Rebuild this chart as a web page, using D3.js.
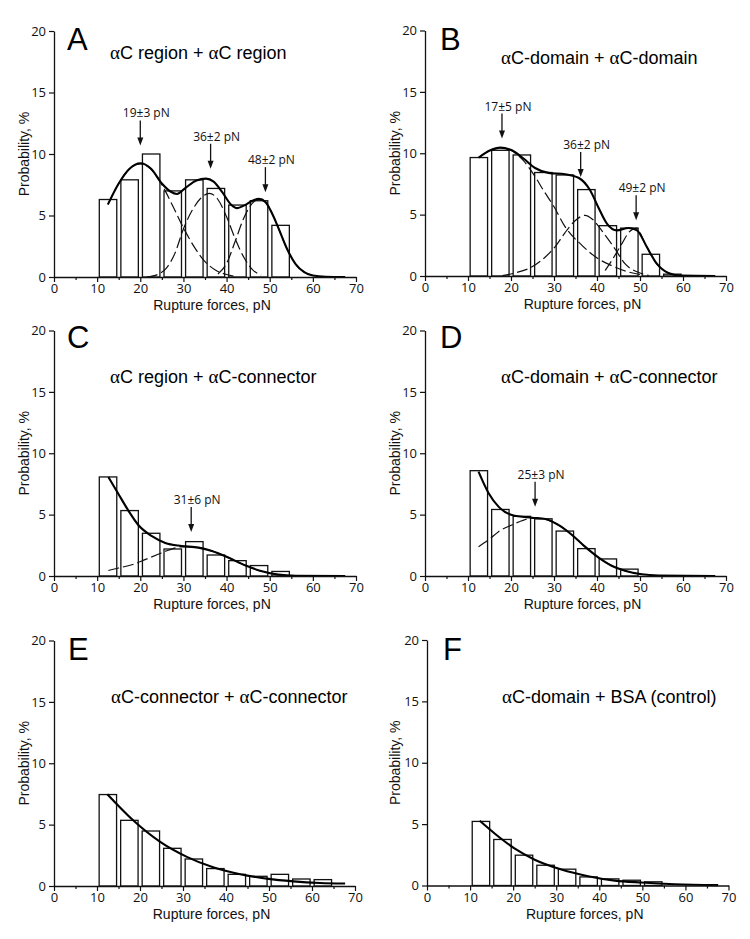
<!DOCTYPE html>
<html><head><meta charset="utf-8">
<script src="https://cdn.jsdelivr.net/npm/d3@7"></script>
<style>body{margin:0;background:#fff}svg{display:block}</style>
</head><body><svg id="c" width="750" height="939"></svg>
<script>
// ---------- data ----------
const binStarts = [10,15,20,25,30,35,40,45,50,55,60];
const xTicks = [0,10,20,30,40,50,60,70];
const xMinor = [5,15,25,35,45,55,65];
const yTicks = [0,5,10,15,20];
const letters = ["A","B","C","D","E","F"];
const titles = ["αC region + αC region","αC-domain + αC-domain","αC region + αC-connector",
                "αC-domain + αC-connector","αC-connector + αC-connector","αC-domain + BSA (control)"];

const probA = [6.3,7.9,10.0,7.0,7.9,7.2,5.85,6.2,4.2];
const probB = [9.65,10.24,9.86,8.43,8.23,7.04,4.1,3.9,1.77,0.15];
const probC = [8.07,5.33,3.48,2.2,2.8,1.71,1.25,0.85,0.37];
const probD = [8.58,5.42,4.86,4.66,3.66,2.23,1.39,0.56];
const probE = [7.45,5.35,4.48,3.07,2.2,1.42,0.95,0.79,0.95,0.57,0.52];
const probF = [5.22,3.75,2.47,1.65,1.33,0.7,0.54,0.43,0.3];

const fitA = [[12.5,5.9],[15,7.6],[17.5,8.8],[20,9.25],[22.5,8.8],[25,7.6],[27,6.95],[28.5,6.75],[30.5,7.25],[33,7.85],[35.2,8.0],[37,7.75],[39,6.9],[41,5.9],[42.5,5.6],[44,5.8],[46,6.2],[47.5,6.35],[49,6.1],[50.5,5.2],[52,4.0],[54,2.3],[56,1.05],[58,0.4],[60,0.12],[63,0.02],[67.5,0]];
const compA1 = [[12.5,5.9],[15,7.6],[17.5,8.8],[20,9.2],[22.5,8.75],[25,7.5],[27.5,5.8],[30,4.0],[32.5,2.45],[35,1.25],[37.5,0.55],[40,0.2],[42,0.05]];
const compA2 = [[21.5,0],[24,0.2],[26,0.7],[28,1.9],[30,3.9],[32,5.4],[34,6.4],[36,6.8],[38,6.3],[40,4.9],[42,3.1],[44,1.6],[46,0.6],[48,0.15]];
const compA3 = [[38,0.25],[40,1.1],[42,2.9],[44,4.8],[46,6.0],[47.5,6.35],[49,6.1],[50.5,5.2],[52,4.0],[54,2.3],[56,1.05],[58,0.4],[60,0.12]];

const fitB = [[12.5,9.65],[15.2,10.24],[17.5,10.46],[20.2,10.24],[22.9,9.57],[25.6,8.8],[28.7,8.4],[32.6,8.29],[35.7,8.0],[38.4,6.98],[40.3,5.6],[42.3,4.27],[44.6,3.72],[47.3,3.91],[49.3,3.72],[51.6,2.36],[53.9,1.0],[56.6,0.25],[59.7,0.03],[67.5,0]];
const compB1 = [[12.5,9.65],[15.2,10.24],[17.5,10.46],[20.2,10.2],[22.9,9.4],[25.6,8.1],[27.5,7.0],[29.9,5.7],[32.6,4.0],[36.5,2.5],[40.3,1.4],[43.4,0.85],[47.3,0.33],[50,0.12]];
const compB2 = [[18,0.03],[21,0.25],[24.9,0.75],[27.5,1.4],[30.3,2.4],[32.5,3.5],[34.9,4.5],[37.2,4.94],[39,4.6],[41.1,3.7],[43,2.8],[44.2,2.2],[46.5,1.0],[49.6,0.3],[52,0.05]];
const compB3 = [[41.9,0.45],[43.5,1.3],[45.8,2.64],[47.5,3.6],[49.2,3.9],[51,2.75],[52.5,1.75],[54,0.95],[56,0.35],[58,0.08]];

const fitC = [[12.6,8.07],[14.9,6.7],[17.2,5.35],[19.6,4.13],[22.7,3.24],[25.8,2.69],[29.6,2.45],[33.5,2.31],[36.6,2.04],[40.4,1.5],[44.3,0.87],[48.2,0.38],[52,0.11],[56,0.02],[67.5,0]];
const compC1 = [[12.6,0.45],[15,0.65],[18.8,1.0],[21.1,1.33],[24,1.75],[26.5,2.1],[29.6,2.38],[33.5,2.31],[36.6,2.04],[40.4,1.5],[44.3,0.87],[48.2,0.38],[52,0.11]];

const fitD = [[12.45,8.5],[14.8,6.74],[17.1,5.65],[20.2,4.97],[24.9,4.75],[28,4.65],[31,4.16],[34.2,3.34],[37.2,2.39],[40.3,1.52],[43.4,0.84],[46.5,0.43],[50.4,0.14],[54.3,0.04],[67.5,0]];
const compD1 = [[12.45,2.39],[15,3.0],[17.1,3.61],[20.2,4.16],[22.5,4.5],[24.9,4.72],[28,4.62],[31,4.16],[34.2,3.34],[37.2,2.39],[40.3,1.52],[43.4,0.84],[46.5,0.43],[50.4,0.14]];

const fitE = [[12.4,7.47],[18.4,5.35],[24.7,3.59],[30.9,2.37],[37,1.52],[43.3,0.95],[49.5,0.6],[55.7,0.38],[61.9,0.25],[67.7,0.2]];
const fitF = [[12.24,5.27],[15.7,4.24],[20.4,3.0],[25,2.1],[31.2,1.3],[37.4,0.76],[43.6,0.4],[49.8,0.24],[57.5,0.1],[67.6,0.03]];

// annotations: arrow position (pN), arrow tip (%), label
const notesA = [[20,10.7,"19±3 pN"],[36.3,8.8,"36±2 pN"],[49,6.9,"48±2 pN"]];
const notesB = [[17.9,11.2,"17±5 pN"],[36.2,8.07,"36±2 pN"],[49.1,4.54,"49±2 pN"]];
const notesC = [[31.8,3.59,"31±6 pN"]];
const notesD = [[25.6,5.65,"25±3 pN"]];

const panelData = [
  {probs:probA, fit:fitA, comps:[compA1,compA2,compA3], notes:notesA},
  {probs:probB, fit:fitB, comps:[compB1,compB2,compB3], notes:notesB},
  {probs:probC, fit:fitC, comps:[compC1], notes:notesC},
  {probs:probD, fit:fitD, comps:[compD1], notes:notesD},
  {probs:probE, fit:fitE, comps:[], notes:[]},
  {probs:probF, fit:fitF, comps:[], notes:[]}
];

// ---------- layout ----------
const layout = [
  {x0:54, x1:356, y0:277, y1:31,  tX:110, tY:59,  lX:67,  lY:50,  yl:29},
  {x0:425,x1:726, y0:276, y1:30.5,tX:501, tY:64,  lX:440, lY:50,  yl:400},
  {x0:54, x1:356, y0:576, y1:330.5,tX:110,tY:383, lX:67,  lY:348, yl:29},
  {x0:425,x1:726, y0:576, y1:330.5,tX:501,tY:383, lX:440, lY:348, yl:400},
  {x0:54, x1:355, y0:886, y1:640.5,tX:111,tY:703, lX:68,  lY:660, yl:29},
  {x0:427,x1:728.5,y0:885.5,y1:640,tX:502,tY:703, lX:443, lY:660, yl:400}
];

const svg = d3.select("#c");
const sansLbl = "'Open Sans', 'Noto Sans', sans-serif";
const sansTitle = "'Liberation Sans', Arial, sans-serif";

panelData.forEach((pd, i) => {
  const L = layout[i];
  const x = d3.scaleLinear().domain([0,70]).range([L.x0, L.x1]);
  const y = d3.scaleLinear().domain([0,20]).range([L.y0, L.y1]);
  const g = svg.append("g");

  // bars
  g.selectAll("rect.bar").data(pd.probs).join("rect")
    .attr("x", (d,j) => x(binStarts[j] + 0.5))
    .attr("width", (d,j) => x(binStarts[j] + 4.55) - x(binStarts[j] + 0.5))
    .attr("y", d => y(d))
    .attr("height", d => y(0) - y(d))
    .attr("fill", "#fff").attr("stroke", "#111").attr("stroke-width", 1.3);

  const line = d3.line().x(d => x(d[0])).y(d => y(d[1])).curve(d3.curveMonotoneX);

  // dashed components
  pd.comps.forEach(c => {
    g.append("path").attr("d", line(c)).attr("fill","none")
      .attr("stroke","#111").attr("stroke-width",1.2).attr("stroke-dasharray","11,4");
  });
  // fit
  g.append("path").attr("d", line(pd.fit)).attr("fill","none")
    .attr("stroke","#000").attr("stroke-width",2.1);

  // axes
  const xAxis = d3.axisBottom(x).tickValues(xTicks).tickSize(5).tickSizeOuter(0).tickPadding(2);
  const xa = g.append("g").attr("transform",`translate(0,${L.y0})`).call(xAxis);
  g.append("g").attr("transform",`translate(0,${L.y0})`)
    .call(d3.axisBottom(x).tickValues(xMinor).tickSize(3).tickSizeOuter(0).tickFormat(""))
    .select(".domain").remove();
  const ya = g.append("g").attr("transform",`translate(${L.x0},0)`)
    .call(d3.axisLeft(y).tickValues(yTicks).tickSize(5).tickSizeOuter(0).tickPadding(3));
  g.selectAll(".domain").attr("stroke","#111").attr("stroke-width",1.3);
  g.selectAll(".tick line").attr("stroke","#111").attr("stroke-width",1.2);
  xa.selectAll("text").attr("font-family",sansLbl).attr("font-size","13px").attr("fill","#111");
  ya.selectAll("text").attr("font-family",sansLbl).attr("font-size","13px").attr("fill","#111");

  // axis labels
  g.append("text").attr("x", (L.x0+L.x1)/2 + 7).attr("y", L.y0 + 33)
    .attr("text-anchor","middle").attr("font-family",sansTitle).attr("font-size","14px")
    .attr("fill","#111").text("Rupture forces, pN");
  g.append("text").attr("transform",`translate(${L.yl},${(L.y0+L.y1)/2}) rotate(-90)`)
    .attr("text-anchor","middle").attr("font-family",sansTitle).attr("font-size","14px")
    .attr("fill","#111").text("Probability, %");

  // panel letter
  g.append("text").attr("x", L.lX).attr("y", L.lY).attr("font-family",sansTitle)
    .attr("font-size","31px").attr("fill","#000").text(letters[i]);

  // title with serif alpha
  const t = g.append("text").attr("x", L.tX).attr("y", L.tY).attr("font-family",sansTitle)
    .attr("font-size","18px").attr("fill","#000");
  titles[i].split(/(α)/).filter(s => s.length).forEach(s => {
    const ts = t.append("tspan").text(s);
    if (s === "α") ts.attr("font-family","'Liberation Serif', 'DejaVu Serif', serif").attr("font-size","19px");
  });

  // annotations
  pd.notes.forEach(n => {
    const ax = x(n[0]), tip = y(n[1]);
    g.append("line").attr("x1",ax).attr("x2",ax).attr("y1",tip-25).attr("y2",tip-6)
      .attr("stroke","#111").attr("stroke-width",1.3);
    g.append("path").attr("d",`M${ax-3},${tip-8}L${ax+3},${tip-8}L${ax},${tip}Z`).attr("fill","#111");
    g.append("text").attr("x", ax+6).attr("y", tip-28).attr("text-anchor","middle")
      .attr("font-family",sansLbl).attr("font-size","12px").attr("fill","#111").text(n[2]);
  });
});
</script>
</body></html>
